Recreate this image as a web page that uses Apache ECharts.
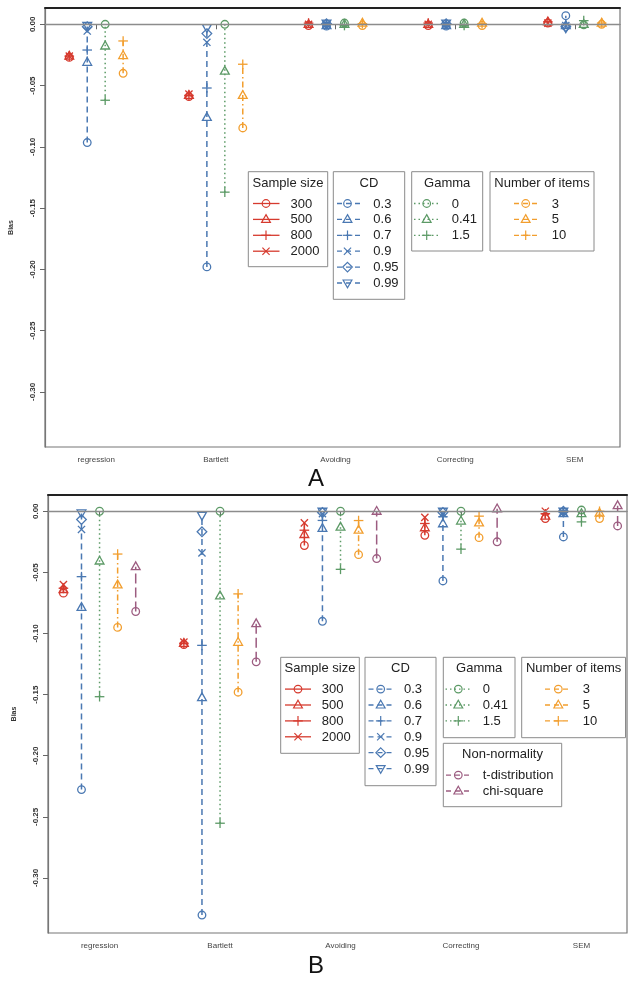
<!DOCTYPE html>
<html><head><meta charset="utf-8">
<script src="https://cdn.jsdelivr.net/npm/echarts@6/dist/echarts.min.js"></script>
<style>html,body{margin:0;padding:0;background:#fff}#c{width:632px;height:981px}</style>
</head><body><div id="c"></div>
<script>
// ---------- data ----------
const methods = ['regression', 'Bartlett', 'Avoiding', 'Correcting', 'SEM'];
const yTicks = [0, -0.05, -0.10, -0.15, -0.20, -0.25, -0.30];

const sampleLevels = ['300', '500', '800', '2000'];
const cdLevels = ['0.3', '0.6', '0.7', '0.9', '0.95', '0.99'];
const gammaLevels = ['0', '0.41', '1.5'];
const itemLevels = ['3', '5', '10'];
const nonNormLevels = ['t-distribution', 'chi-square'];

// Panel A: rows = methods, columns = factor levels
const aSample = [
  [-0.027, -0.026, -0.026, -0.026],
  [-0.059, -0.058, -0.058, -0.057],
  [-0.001, 0.000, 0.001, 0.000],
  [-0.001, 0.000, 0.001, 0.000],
  [0.001, 0.002, 0.002, 0.001]
];
const aCD = [
  [-0.0965, -0.031, -0.021, -0.0055, -0.002, -0.001],
  [-0.198, -0.076, -0.052, -0.0147, -0.0076, -0.0027],
  [-0.0015, -0.001, 0.000, 0.000, 0.0005, 0.001],
  [-0.0015, -0.001, 0.000, 0.000, 0.0005, 0.001],
  [0.007, -0.001, 0.000, -0.001, -0.002, -0.003]
];
const aGamma = [
  [0.000, -0.0177, -0.062],
  [0.000, -0.0383, -0.137],
  [0.001, 0.000, -0.001],
  [0.001, 0.000, -0.001],
  [-0.0005, 0.000, 0.003]
];
const aItems = [
  [-0.040, -0.0255, -0.0136],
  [-0.0846, -0.058, -0.0326],
  [-0.001, 0.001, 0.0005],
  [-0.001, 0.001, 0.0005],
  [0.000, 0.001, 0.001]
];

// Panel B
const bSample = [
  [-0.067, -0.064, -0.063, -0.060],
  [-0.109, -0.108, -0.108, -0.107],
  [-0.028, -0.019, -0.0155, -0.0095],
  [-0.0197, -0.0135, -0.010, -0.005],
  [-0.006, -0.004, -0.002, 0.000]
];
const bCD = [
  [-0.2277, -0.0787, -0.0535, -0.0149, -0.0068, -0.0014],
  [-0.3303, -0.1525, -0.1097, -0.034, -0.0168, -0.0033],
  [-0.090, -0.014, -0.0075, -0.002, -0.001, 0.000],
  [-0.057, -0.0102, -0.0045, -0.002, -0.001, 0.000],
  [-0.021, -0.002, -0.001, -0.001, 0.000, 0.000]
];
const bGamma = [
  [0.000, -0.0407, -0.1517],
  [0.000, -0.0692, -0.2552],
  [0.000, -0.013, -0.0475],
  [0.000, -0.008, -0.031],
  [0.001, -0.002, -0.0087]
];
const bItems = [
  [-0.095, -0.0603, -0.035],
  [-0.148, -0.1072, -0.0676],
  [-0.0355, -0.0155, -0.0076],
  [-0.0216, -0.0095, -0.004],
  [-0.006, -0.0015, 0.000]
];
const bNonNorm = [
  [-0.082, -0.0453],
  [-0.1232, -0.092],
  [-0.0387, 0.000],
  [-0.025, 0.002],
  [-0.012, 0.0046]
];

// ---------- styles ----------
const RED = '#d63a2e', BLUE = '#4a78b2', GREEN = '#5c9a66', ORANGE = '#f29e2e', PURPLE = '#9c5c80';
const FONT = '"Liberation Sans", Arial, Helvetica, sans-serif';
const groupStyles = [
  { color: RED, dash: null, shapes: [0, 1, 2, 3] },
  { color: BLUE, dash: [6, 4], shapes: [0, 1, 2, 3, 4, 5] },
  { color: GREEN, dash: [1.5, 3], shapes: [0, 1, 2] },
  { color: ORANGE, dash: [6, 3, 1.5, 3], shapes: [0, 1, 2] },
  { color: PURPLE, dash: [10, 4], shapes: [0, 1] }
];
const panelA = { groups: [aSample, aCD, aGamma, aItems], offsets: [-0.225, -0.075, 0.075, 0.225] };
const panelB = { groups: [bSample, bCD, bGamma, bItems, bNonNorm], offsets: [-0.3, -0.15, 0, 0.15, 0.3] };

function sym(shape, cx, cy, color, lw) {
  const st = { fill: 'none', stroke: color, lineWidth: lw || 1.3 };
  const ln = (x1, y1, x2, y2) => ({ type: 'line', shape: { x1, y1, x2, y2 }, style: st });
  switch (shape) {
    case 0: return { type: 'circle', shape: { cx, cy, r: 3.8 }, style: st };
    case 1: return { type: 'polygon', shape: { points: [[cx, cy - 4.8], [cx + 4.4, cy + 3], [cx - 4.4, cy + 3]] }, style: st };
    case 2: return { type: 'group', children: [ln(cx - 4.8, cy, cx + 4.8, cy), ln(cx, cy - 4.8, cx, cy + 4.8)] };
    case 3: return { type: 'group', children: [ln(cx - 3.6, cy - 3.6, cx + 3.6, cy + 3.6), ln(cx - 3.6, cy + 3.6, cx + 3.6, cy - 3.6)] };
    case 4: return { type: 'polygon', shape: { points: [[cx, cy - 4.8], [cx + 4.8, cy], [cx, cy + 4.8], [cx - 4.8, cy]] }, style: st };
    default: return { type: 'polygon', shape: { points: [[cx - 4.4, cy - 3], [cx + 4.4, cy - 3], [cx, cy + 4.8]] }, style: st };
  }
}

function buildSeries(panel, idx) {
  const seg = [], pts = [];
  panel.groups.forEach((g, gi) => {
    g.forEach((vals, m) => {
      const x = m + 1 + panel.offsets[gi];
      seg.push([x, Math.min(...vals), Math.max(...vals), gi]);
      vals.forEach((v, li) => pts.push([x, v, groupStyles[gi].shapes[li], gi]));
    });
  });
  return [
    {
      type: 'line', xAxisIndex: idx * 2, yAxisIndex: idx, data: [], silent: true,
      markLine: { symbol: 'none', silent: true, label: { show: false }, animation: false,
        lineStyle: { color: '#8c8c8c', width: 1.3, type: 'solid' }, data: [{ yAxis: 0 }] }
    },
    {
      type: 'custom', xAxisIndex: idx * 2, yAxisIndex: idx, data: seg, silent: true,
      dimensions: ['x', 'lo', 'hi', 'g'], encode: { x: 0, y: [1, 2] },
      renderItem: (params, api) => {
        const g = groupStyles[api.value(3)];
        const p1 = api.coord([api.value(0), api.value(1)]);
        const p2 = api.coord([api.value(0), api.value(2)]);
        return { type: 'line', shape: { x1: p1[0], y1: p1[1], x2: p2[0], y2: p2[1] },
          style: { stroke: g.color, lineWidth: 1.5, lineDash: g.dash || undefined } };
      }
    },
    {
      type: 'custom', xAxisIndex: idx * 2, yAxisIndex: idx, data: pts, silent: true,
      dimensions: ['x', 'y', 's', 'g'], encode: { x: 0, y: 1 },
      renderItem: (params, api) => {
        const p = api.coord([api.value(0), api.value(1)]);
        return sym(api.value(2), p[0], p[1], groupStyles[api.value(3)].color, 1.3);
      }
    }
  ];
}

function legendBox(box, title, levels, gi, layout) {
  const st = groupStyles[gi];
  const els = [{ type: 'rect', shape: { x: box[0], y: box[1], width: box[2] - box[0], height: box[3] - box[1] },
    style: { fill: '#fff', stroke: '#8a8a8a', lineWidth: 1 }, z: 10 }];
  els.push({ type: 'text', z: 11, style: { text: title, x: (box[0] + box[2]) / 2, y: box[1] + 11.5,
    font: '13px ' + FONT, fill: '#222', align: 'center', textAlign: 'center', verticalAlign: 'middle', textVerticalAlign: 'middle' } });
  levels.forEach((lv, i) => {
    const y = box[1] + 31.8 + i * 15.9;
    els.push({ type: 'line', z: 11, shape: { x1: layout.l1, y1: y, x2: layout.l2, y2: y },
      style: { stroke: st.color, lineWidth: 1.3, lineDash: st.dash ? (gi === 2 ? [1.5, 3] : [5, 4]) : undefined } });
    const s = sym(st.shapes[i], layout.s, y, st.color, 1.2);
    s.z = 12;
    if (s.children) s.children.forEach(c => c.z = 12);
    els.push(s);
    els.push({ type: 'text', z: 11, style: { text: lv, x: layout.t, y: y + 0.5, font: '13px ' + FONT, fill: '#222',
      align: 'left', textAlign: 'left', verticalAlign: 'middle', textVerticalAlign: 'middle' } });
  });
  return els;
}

const xMin = 0.572, xMax = 5.378, yMin = -0.345, yMax = 0.0133;
function xAxes(gridIndex) {
  return [
    { type: 'value', gridIndex, min: xMin, max: xMax, splitLine: { show: false },
      axisLine: { show: true, lineStyle: { color: '#777', width: 1.2 } },
      axisTick: { show: true, length: 5, lineStyle: { color: '#666' }, customValues: [1, 2, 3, 4, 5] },
      axisLabel: { customValues: [1, 2, 3, 4, 5], formatter: v => methods[Math.round(v) - 1] || '',
        fontSize: 8, color: '#444', fontFamily: FONT, margin: 9 } },
    { type: 'value', gridIndex, position: 'top', min: xMin, max: xMax, splitLine: { show: false },
      axisLine: { show: true, onZero: false, lineStyle: { color: '#222', width: 2 } },
      axisTick: { show: false }, axisLabel: { show: false } }
  ];
}
function yAxis(gridIndex) {
  return { type: 'value', gridIndex, min: yMin, max: yMax, splitLine: { show: false },
    name: 'Bias', nameLocation: 'middle', nameGap: 30, nameRotate: 90,
    nameTextStyle: { fontSize: 7, fontWeight: 'bold', color: '#333', fontFamily: FONT },
    axisLine: { show: true, lineStyle: { color: '#777', width: 1.2 } },
    axisTick: { show: true, length: 5, lineStyle: { color: '#666' }, customValues: yTicks },
    axisLabel: { customValues: yTicks, rotate: 90, fontSize: 8, fontWeight: 'bold', color: '#333', fontFamily: FONT, margin: 8,
      formatter: v => Math.abs(v) < 1e-9 ? '0.00' : v.toFixed(2) } };
}

const graphics = []
  .concat(legendBox([248.3, 171.7, 327.7, 266.7], 'Sample size', sampleLevels, 0, { l1: 253, l2: 279.5, s: 266, t: 290.5 }))
  .concat(legendBox([333.3, 171.7, 404.7, 299.3], 'CD', cdLevels, 1, { l1: 337, l2: 363, s: 347.5, t: 373.3 }))
  .concat(legendBox([411.7, 171.7, 482.7, 251], 'Gamma', gammaLevels, 2, { l1: 414, l2: 440, s: 426.7, t: 451.7 }))
  .concat(legendBox([490, 171.7, 594, 251], 'Number of items', itemLevels, 3, { l1: 514, l2: 540, s: 525.7, t: 551.7 }))
  .concat(legendBox([280.7, 657.3, 359.3, 753.3], 'Sample size', sampleLevels, 0, { l1: 285, l2: 311, s: 298, t: 321.7 }))
  .concat(legendBox([365, 657.3, 436, 785.7], 'CD', cdLevels, 1, { l1: 368.5, l2: 394, s: 380.7, t: 404 }))
  .concat(legendBox([443.3, 657.3, 515, 737.7], 'Gamma', gammaLevels, 2, { l1: 445.5, l2: 471.7, s: 458.3, t: 482.7 }))
  .concat(legendBox([521.7, 657.3, 625.5, 737.7], 'Number of items', itemLevels, 3, { l1: 545, l2: 571.7, s: 558.3, t: 582.7 }))
  .concat(legendBox([443.3, 743.3, 561.7, 806.7], 'Non-normality', nonNormLevels, 4, { l1: 446, l2: 471.7, s: 458.3, t: 482.7 }))
  .concat([
    { type: 'text', style: { text: 'A', x: 316, y: 479, font: '24px ' + FONT, fill: '#111', align: 'center', textAlign: 'center', verticalAlign: 'middle', textVerticalAlign: 'middle' } },
    { type: 'text', style: { text: 'B', x: 316, y: 966, font: '24px ' + FONT, fill: '#111', align: 'center', textAlign: 'center', verticalAlign: 'middle', textVerticalAlign: 'middle' } }
  ]);

const chart = echarts.init(document.getElementById('c'), null, { renderer: 'canvas' });
chart.setOption({
  animation: false,
  backgroundColor: '#fff',
  grid: [
    { left: 41, top: 8, width: 579, height: 439, show: true, borderColor: '#777', borderWidth: 1.2, backgroundColor: 'transparent' },
    { left: 48, top: 495, width: 579, height: 438, show: true, borderColor: '#777', borderWidth: 1.2, backgroundColor: 'transparent' }
  ],
  xAxis: xAxes(0).concat(xAxes(1)),
  yAxis: [yAxis(0), yAxis(1)],
  series: buildSeries(panelA, 0).concat(buildSeries(panelB, 1)),
  graphic: graphics
});
</script></body></html>
